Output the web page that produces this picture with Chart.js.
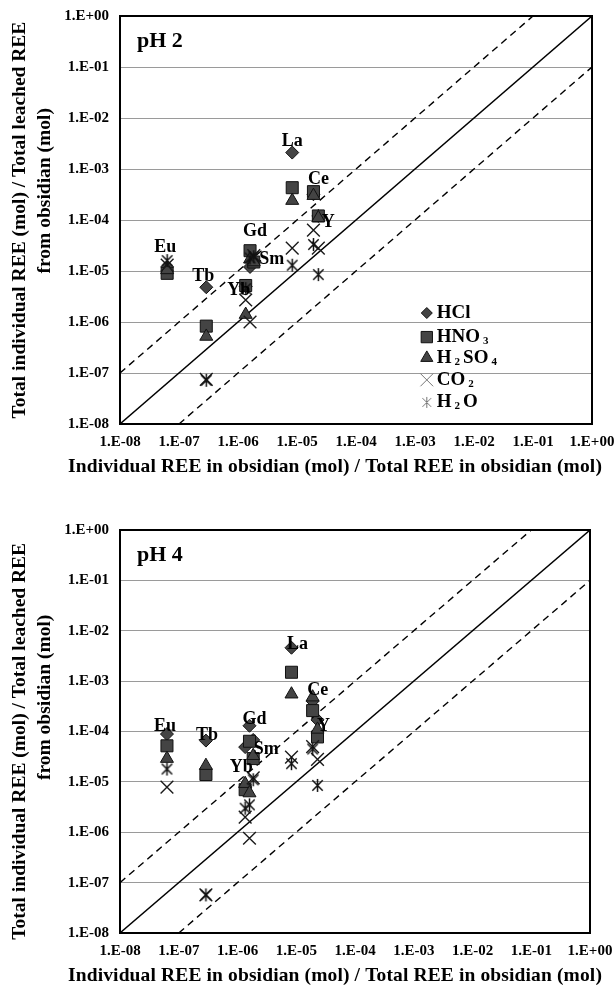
<!DOCTYPE html>
<html>
<head>
<meta charset="utf-8">
<script src="https://cdn.jsdelivr.net/npm/chart.js@4.4.0/dist/chart.umd.min.js"></script>
<style>
    body { margin: 0; background: #fff; }
    .panel { position: absolute; left: 0; width: 614px; }
    #top { top: 0; height: 487px; }
    #bottom { top: 487px; height: 500px; }
</style>
</head>
<body>
<div class="panel" id="top"><canvas id="chartPH2" width="614" height="487"></canvas></div>
<div class="panel" id="bottom"><canvas id="chartPH4" width="614" height="500"></canvas></div>
<script>
// elements and their fraction in obsidian (x axis)
const elements = ['Eu', 'Tb', 'Yb', 'Gd', 'Sm', 'La', 'Ce', 'Y'];
const obsidianRatio = [6.3e-8, 2.9e-7, 1.35e-6, 1.6e-6, 1.85e-6, 8.3e-6, 1.9e-5, 2.3e-5];

const seriesNames = ['HCl', 'HNO3', 'H2SO4', 'CO2', 'H2O'];

// pH 2 leached fractions (y axis)
const hclPH2   = [1.2e-5, 4.8e-6, 5.0e-6, 1.2e-5, 1.6e-5, 2.1e-3, 3.2e-4, 1.2e-4];
const hno3PH2  = [9.0e-6, 8.3e-7, 5.2e-6, 2.5e-5, 1.5e-5, 4.3e-4, 3.6e-4, 1.2e-4];
const h2so4PH2 = [1.05e-5, 5.2e-7, 1.4e-6, 1.7e-5, 1.5e-5, 2.4e-4, 3.0e-4, 1.1e-4];
const co2PH2   = [1.3e-5, 7.5e-8, 2.7e-6, 1.0e-6, 2.0e-5, 2.8e-5, 6.3e-5, 2.8e-5];
const h2oPH2   = [1.6e-5, 7.2e-8, 4.5e-6, 1.8e-5, 1.9e-5, 1.3e-5, 3.3e-5, 8.5e-6];

// pH 4 leached fractions (y axis)
const hclPH4   = [8.9e-5, 6.6e-5, 4.9e-5, 1.3e-4, 6.8e-5, 4.6e-3, 4.0e-4, 1.7e-4];
const hno3PH4  = [5.2e-5, 1.4e-5, 7.0e-6, 6.4e-5, 2.9e-5, 1.5e-3, 2.6e-4, 7.8e-5];
const h2so4PH4 = [2.9e-5, 2.1e-5, 9.2e-6, 6.0e-6, 3.3e-5, 5.5e-4, 4.8e-4, 1.1e-4];
const co2PH4   = [7.9e-6, 5.7e-8, 2.0e-6, 7.6e-7, 1.2e-5, 3.1e-5, 5.0e-5, 2.8e-5];
const h2oPH4   = [1.8e-5, 5.7e-8, 3.0e-6, 3.5e-6, 1.1e-5, 2.3e-5, 4.5e-5, 8.5e-6];

// 1:1 line and the 10x / 0.1x lines
const ratioLines = [1, 10, 0.1];

const tickValues = [1e-8, 1e-7, 1e-6, 1e-5, 1e-4, 1e-3, 1e-2, 1e-1, 1];
const tickLabels = ['1.E-08', '1.E-07', '1.E-06', '1.E-05', '1.E-04', '1.E-03', '1.E-02', '1.E-01', '1.E+00'];

const xTitle = 'Individual REE in obsidian (mol) / Total REE in obsidian (mol)';
const yTitle = ['Total individual REE (mol) / Total leached REE', 'from obsidian (mol)'];

const FONT = "'Liberation Serif', 'Times New Roman', serif";

// label offsets (px) from the HCl point of each element
const labelOffsetsPH2 = [[-2, -20], [-3, -11], [-7, 4], [5, -36], [18, -1], [0, -11], [5, -15], [10, 6]];
const labelOffsetsPH4 = [[-2, -8], [1, -5], [-4, 20], [5, -6], [13, 9], [6, -3], [5, -11], [6, 6]];

function makeAsterisk(size, color, lw) {
    const c = document.createElement('canvas');
    c.width = size;
    c.height = size;
    const g = c.getContext('2d');
    const m = size / 2;
    const r = size / 2 - 1;
    const d = r * 0.8;
    g.strokeStyle = color;
    g.lineWidth = lw;
    g.beginPath();
    g.moveTo(m - d, m - d); g.lineTo(m + d, m + d);
    g.moveTo(m + d, m - d); g.lineTo(m - d, m + d);
    g.moveTo(m, m - r); g.lineTo(m, m + r);
    g.stroke();
    return c;
}

const asteriskPoint = makeAsterisk(15, '#111', 1.5);
const asteriskLegend = makeAsterisk(13, '#777', 1);

const markerStyles = [
    { pointStyle: 'rectRot', radius: 6.5 },
    { pointStyle: 'rect', radius: 8.5 },
    { pointStyle: 'triangle', radius: 7.5 },
    { pointStyle: 'crossRot', radius: 9 },
    { pointStyle: asteriskPoint, radius: 7 }
];

function buildDatasets(series) {
    const datasets = [];
    for (let s = 0; s < series.length; s++) {
        const pts = [];
        for (let i = 0; i < elements.length; i++) {
            if (series[s][i] != null) pts.push({ x: obsidianRatio[i], y: series[s][i] });
        }
        const open = s >= 3;
        datasets.push({
            label: seriesNames[s],
            data: pts,
            pointStyle: markerStyles[s].pointStyle,
            pointRadius: markerStyles[s].radius,
            pointHoverRadius: markerStyles[s].radius,
            pointBackgroundColor: '#444',
            pointBorderColor: open ? '#1a1a1a' : '#111',
            pointBorderWidth: open ? 1.4 : 1,
            showLine: false,
            order: 10 - s
        });
    }
    for (let k = 0; k < ratioLines.length; k++) {
        const r = ratioLines[k];
        const x0 = Math.max(tickValues[0], tickValues[0] / r);
        const x1 = Math.min(1, 1 / r);
        datasets.push({
            label: 'ratio ' + r,
            data: [{ x: x0, y: x0 * r }, { x: x1, y: x1 * r }],
            showLine: true,
            borderColor: '#000',
            borderWidth: 1.4,
            borderDash: r === 1 ? [] : [7, 5],
            pointRadius: 0,
            order: 20
        });
    }
    return datasets;
}

const framePlugin = {
    id: 'frame',
    afterDraw(chart) {
        const { ctx, chartArea: a } = chart;
        ctx.save();
        ctx.strokeStyle = '#000';
        ctx.lineWidth = 2;
        ctx.strokeRect(a.left, a.top, a.right - a.left, a.bottom - a.top);
        ctx.restore();
    }
};

// text with digits drawn as subscripts, e.g. H2SO4
function drawChemText(ctx, text, x, y) {
    let cx = x;
    for (const ch of text) {
        if (/[0-9]/.test(ch)) {
            ctx.font = `bold 11px ${FONT}`;
            cx += 3;
            ctx.fillText(ch, cx, y + 4);
            cx += ctx.measureText(ch).width + 3;
        } else {
            ctx.font = `bold 19px ${FONT}`;
            ctx.fillText(ch, cx, y);
            cx += ctx.measureText(ch).width;
        }
    }
}

// x title spread over the same width as in the original (x 68 .. 602)
function drawXTitle(ctx, y) {
    const left = 68;
    const target = 534;
    ctx.textAlign = 'left';
    ctx.font = `bold 19.5px ${FONT}`;
    const hasSpacing = 'letterSpacing' in ctx;
    if (hasSpacing) ctx.letterSpacing = '0px';
    const base = ctx.measureText(xTitle).width;
    if (hasSpacing && base < target) {
        ctx.letterSpacing = ((target - base) / (xTitle.length - 1)).toFixed(2) + 'px';
        ctx.fillText(xTitle, left, y);
        ctx.letterSpacing = '0px';
    } else {
        ctx.fillText(xTitle, left, y, target);
    }
}

const annotatePlugin = {
    id: 'annotate',
    afterDatasetsDraw(chart, args, opts) {
        const { ctx, chartArea: a, scales } = chart;
        ctx.save();
        ctx.fillStyle = '#000';
        ctx.textBaseline = 'middle';

        // panel title
        ctx.textAlign = 'left';
        ctx.font = `bold 22px ${FONT}`;
        ctx.fillText(opts.title, a.left + 17, a.top + 25);

        // element labels
        ctx.textAlign = 'center';
        ctx.font = `bold 18px ${FONT}`;
        for (let i = 0; i < elements.length; i++) {
            const px = scales.x.getPixelForValue(obsidianRatio[i]);
            const py = scales.y.getPixelForValue(opts.anchor[i]);
            ctx.fillText(elements[i], px + opts.offsets[i][0], py + opts.offsets[i][1]);
        }

        drawXTitle(ctx, a.bottom + 43);

        // legend inside the plot
        if (opts.legend) {
            const w = a.right - a.left;
            const h = a.bottom - a.top;
            const rows = [0.728, 0.787, 0.838, 0.892, 0.947];
            const legendMarks = [
                { style: 'rectRot', r: 5.5, fill: '#444', stroke: '#111', lw: 1 },
                { style: 'rect', r: 8, fill: '#444', stroke: '#111', lw: 1 },
                { style: 'triangle', r: 7, fill: '#444', stroke: '#111', lw: 1 },
                { style: 'crossRot', r: 9, fill: '#777', stroke: '#777', lw: 1 },
                { style: asteriskLegend, r: 6, fill: '#777', stroke: '#777', lw: 1 }
            ];
            const mx = a.left + 0.65 * w;
            for (let s = 0; s < seriesNames.length; s++) {
                const my = a.top + rows[s] * h;
                const m = legendMarks[s];
                ctx.fillStyle = m.fill;
                ctx.strokeStyle = m.stroke;
                ctx.lineWidth = m.lw;
                Chart.helpers.drawPoint(ctx, { pointStyle: m.style, radius: m.r, rotation: 0, borderWidth: m.lw }, mx, my);
                ctx.fillStyle = '#000';
                ctx.textAlign = 'left';
                drawChemText(ctx, seriesNames[s], mx + 10, my);
            }
        }
        ctx.restore();
    }
};

function buildChart(canvasId, series, title, offsets, legend, padding, yTitlePad) {
    const ctx = document.getElementById(canvasId);
    const tickFont = { family: FONT, weight: 'bold', size: 15 };

    // spaces move each rotated title line along the axis, as in the original
    const yTitleLines = [
        yTitle[0] + ' '.repeat(yTitlePad[0]),
        ' '.repeat(yTitlePad[1]) + yTitle[1]
    ];

    return new Chart(ctx, {
        type: 'scatter',
        data: { datasets: buildDatasets(series) },
        plugins: [framePlugin, annotatePlugin],
        options: {
            responsive: false,
            animation: false,
            events: [],
            layout: { padding: padding },
            plugins: {
                legend: { display: false },
                tooltip: { enabled: false },
                annotate: { title: title, anchor: series[0], offsets: offsets, legend: legend }
            },
            scales: {
                x: {
                    type: 'logarithmic',
                    min: 1e-8,
                    max: 1,
                    afterBuildTicks: (axis) => { axis.ticks = tickValues.map(v => ({ value: v })); },
                    afterFit: (axis) => {
                        axis.height = 54;
                        axis.paddingLeft = 0;
                        axis.paddingRight = 0;
                    },
                    grid: { display: false, drawTicks: false },
                    border: { display: false },
                    ticks: {
                        autoSkip: false,
                        maxRotation: 0,
                        padding: 9,
                        color: '#000',
                        font: tickFont,
                        callback: (value, index) => tickLabels[index]
                    },
                    title: { display: false }
                },
                y: {
                    type: 'logarithmic',
                    min: 1e-8,
                    max: 1,
                    afterBuildTicks: (axis) => { axis.ticks = tickValues.map(v => ({ value: v })); },
                    afterFit: (axis) => {
                        axis.width = 120;
                        axis.paddingTop = 0;
                        axis.paddingBottom = 0;
                    },
                    grid: { color: '#9a9a9a', lineWidth: 1, drawTicks: false },
                    border: { display: false },
                    ticks: {
                        autoSkip: false,
                        padding: 11,
                        color: '#000',
                        font: tickFont,
                        callback: (value, index) => tickLabels[index]
                    },
                    title: {
                        display: true,
                        text: yTitleLines,
                        color: '#000',
                        font: { family: FONT, weight: 'bold', size: 19.5, lineHeight: 1.3 },
                        padding: { top: 7, bottom: 0 }
                    }
                }
            }
        }
    });
}

buildChart('chartPH2', [hclPH2, hno3PH2, h2so4PH2, co2PH2, h2oPH2], 'pH 2', labelOffsetsPH2, true,
    { top: 16, right: 22, bottom: 9, left: 0 }, [0, 12]);
buildChart('chartPH4', [hclPH4, hno3PH4, h2so4PH4, co2PH4, h2oPH4], 'pH 4', labelOffsetsPH4, false,
    { top: 43, right: 24, bottom: 0, left: 0 }, [4, 14]);
</script>
</body>
</html>
